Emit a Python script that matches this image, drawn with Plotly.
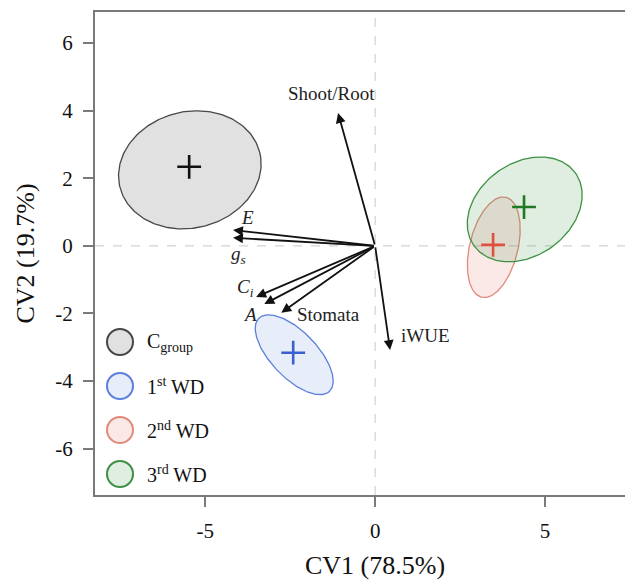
import numpy as np
import plotly.graph_objects as go

# ---------------- data ----------------
groups = ["C_group", "1st WD", "2nd WD", "3rd WD"]
legend_labels = ["C<sub>group</sub>", "1<sup>st</sup> WD", "2<sup>nd</sup> WD", "3<sup>rd</sup> WD"]
centroid_x = [-5.47, -2.41, 3.47, 4.38]
centroid_y = [2.34, -3.16, 0.03, 1.15]
ell_cx = [-5.45, -2.38, 3.49, 4.40]
ell_cy = [2.25, -3.22, -0.04, 1.08]
ell_a = [2.12, 1.50, 1.52, 1.84]      # semi-major
ell_b = [1.72, 0.68, 0.71, 1.37]      # semi-minor
ell_angle = [14.4, -46.3, 76.4, 36.3]  # degrees

variables = ["Shoot/Root", "E", "g_s", "C_i", "A", "Stomata", "iWUE"]
var_labels = ["Shoot/Root", "<i>E</i>", "<i>g<sub>s</sub></i>", "<i>C<sub>i</sub></i>", "<i>A</i>", "Stomata", "iWUE"]
load_x = [-1.09, -4.18, -4.18, -3.50, -3.26, -2.76, 0.44]
load_y = [3.93, 0.47, 0.24, -1.51, -1.72, -1.98, -3.08]
label_x = [-1.29, -3.76, -4.03, -3.82, -3.68, -1.38, 1.47]
label_y = [4.50, 0.83, -0.27, -1.24, -2.04, -2.04, -2.66]

x_ticks = [-5, 0, 5]
x_ticktext = ["-5", "0", "5"]
y_ticks = [-6, -4, -2, 0, 2, 4, 6]
y_ticktext = ["-6", "-4", "-2", "0", "2", "4", "6"]
x_title = "CV1 (78.5%)"
y_title = "CV2 (19.7%)"

# ---------------- styles ----------------
line_cols = ["#474747", "#5b7fdc", "#e08a7c", "#3c9143"]
fill_cols = ["rgba(205,205,205,0.6)", "rgba(91,127,220,0.14)",
             "rgba(224,120,100,0.16)", "rgba(60,145,67,0.16)"]
cross_cols = ["#111111", "#3a5fd0", "#e0503e", "#1f7a22"]
FONT = "Liberation Serif"
XR = [-8.24, 7.35]
YR = [-7.37, 6.92]

fig = go.Figure()

t = np.linspace(0, 2 * np.pi, 241)
for i in range(len(groups)):
    th = np.deg2rad(ell_angle[i])
    ex = ell_cx[i] + ell_a[i] * np.cos(t) * np.cos(th) - ell_b[i] * np.sin(t) * np.sin(th)
    ey = ell_cy[i] + ell_a[i] * np.cos(t) * np.sin(th) + ell_b[i] * np.sin(t) * np.cos(th)
    fig.add_trace(go.Scatter(x=ex, y=ey, mode="lines", fill="toself",
                             fillcolor=fill_cols[i],
                             line=dict(color=line_cols[i], width=1.3),
                             showlegend=False, hoverinfo="skip"))

for i in range(len(groups)):
    fig.add_trace(go.Scatter(x=[centroid_x[i]], y=[centroid_y[i]], mode="markers",
                             marker=dict(symbol="cross-thin", size=17,
                                         line=dict(color=cross_cols[i], width=2.6)),
                             showlegend=False, hoverinfo="skip"))

# invisible trace to carry the label-only overlay axes
fig.add_trace(go.Scatter(x=[centroid_x[0]], y=[centroid_y[0]], xaxis="x2", yaxis="y2",
                         mode="markers", marker=dict(opacity=0, size=1),
                         showlegend=False, hoverinfo="skip"))

shapes = [
    dict(type="line", xref="paper", yref="y", x0=0, x1=1, y0=0, y1=0, layer="below",
         line=dict(color="#c8c8c8", width=1, dash="dash")),
    dict(type="line", xref="x", yref="paper", x0=0, x1=0, y0=0, y1=1, layer="below",
         line=dict(color="#c8c8c8", width=1, dash="dash")),
]

annotations = []
for i in range(len(variables)):
    annotations.append(dict(x=load_x[i], y=load_y[i], xref="x", yref="y",
                            ax=0, ay=0, axref="x", ayref="y", text="",
                            showarrow=True, arrowhead=2, arrowsize=1.1,
                            arrowwidth=1.8, arrowcolor="#111111"))
    annotations.append(dict(x=label_x[i], y=label_y[i], xref="x", yref="y",
                            text=var_labels[i], showarrow=False,
                            font=dict(family=FONT, size=19, color="#222222")))

# custom legend
legend_y_px = [342, 386, 430, 474]
for i in range(len(groups)):
    py = (495 - legend_y_px[i]) / 483
    shapes.append(dict(type="circle", xref="paper", yref="paper",
                       xsizemode="pixel", ysizemode="pixel",
                       xanchor=(120 - 95) / 530, yanchor=py,
                       x0=-13, x1=13, y0=-13, y1=13, layer="above",
                       fillcolor=fill_cols[i], line=dict(color=line_cols[i], width=2)))
    annotations.append(dict(x=(145 - 95) / 530, y=py, xref="paper", yref="paper",
                            xanchor="left", yanchor="middle", text=legend_labels[i],
                            showarrow=False,
                            font=dict(family=FONT, size=20, color="#111111")))

annotations.append(dict(x=0, y=-0.145, xref="x", yref="paper", text=x_title,
                        showarrow=False, xanchor="center", yanchor="middle",
                        font=dict(family=FONT, size=26, color="#111111")))
annotations.append(dict(x=(25 - 95) / 530, y=0.5, xref="paper", yref="paper",
                        text=y_title, textangle=-90, showarrow=False,
                        xanchor="center", yanchor="middle",
                        font=dict(family=FONT, size=26, color="#111111")))

tick_axis = dict(showgrid=False, zeroline=False, showline=True, linecolor="#7a7a7a",
                 linewidth=1.6, ticks="outside", ticklen=10, tickwidth=1.6,
                 tickcolor="#7a7a7a", showticklabels=False)
label_axis = dict(showgrid=False, zeroline=False, showline=False, ticks="outside",
                  ticklen=17, tickwidth=1, tickcolor="rgba(0,0,0,0)",
                  tickfont=dict(family=FONT, size=21, color="#111111"))

fig.update_layout(
    width=625, height=583,
    margin=dict(l=95, r=0, t=12, b=88),
    font=dict(family=FONT, size=20, color="#111111"),
    paper_bgcolor="white", plot_bgcolor="white",
    xaxis=dict(range=XR, tickvals=x_ticks, mirror=True, **tick_axis),
    yaxis=dict(range=YR, tickvals=y_ticks, mirror=False, **tick_axis),
    xaxis2=dict(range=XR, tickvals=x_ticks, ticktext=x_ticktext, overlaying="x",
                side="bottom", anchor="y2", **label_axis),
    yaxis2=dict(range=YR, tickvals=y_ticks, ticktext=y_ticktext, overlaying="y",
                side="left", anchor="x2", **label_axis),
    annotations=annotations, showlegend=False,
)
fig.layout.shapes = shapes

fig.write_html("out.html")
